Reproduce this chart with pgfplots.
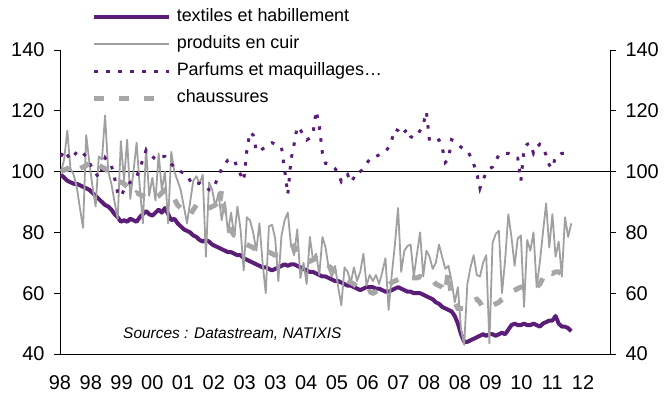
\documentclass[border=0pt]{standalone}
\usepackage{pgfplots}
\usepackage{pgfplotstable}
\pgfplotsset{compat=1.18}
\usepackage{fontspec}
\setmainfont{Liberation Sans}
\definecolor{nxpurple}{HTML}{5A1E78}
\definecolor{nxgrey}{HTML}{A0A0A0}
\definecolor{nxgrey2}{HTML}{A6A6A6}

\pgfplotstableread{
m t c p s
0 99 100 105 100
1 98 104 107 100.5
2 97 113.5 105.5 101
3 96.5 101 104 100
4 96 99 105 99
5 96 95 106.5 100
6 95.5 88 107 101
7 95 81.5 106 101.5
8 94.5 112 105 102
9 94 103 103 103
10 93 95 101 104
11 92 88.5 99.5 103.5
12 91 105 98 102
13 90 104 101 101.5
14 89 118.5 104.5 101
15 88.5 100 103 100
16 87.5 96 102 99
17 86 90 98 98
18 85 84.5 93 97
19 83.5 110 91.7 96.5
20 84 97 94 96
21 83.5 110.5 95.5 95
22 84.5 91 96.5 93
23 84 100 97 92
24 83.5 109.5 98.3 93
25 85 95 101 92.5
26 86 83 104 92
27 87 108 107 91.5
28 86 92 105.5 92
29 85.5 98 105 92.5
30 86.5 90.5 104 91.5
31 87.5 106 104.5 92
32 86.5 94 105 93
33 88 100 105 94
34 86 83 104 94
35 84 106.5 102.5 93
36 84.5 100 101.5 91
37 83 97 100.5 89
38 82 94 100 88
39 81 88.5 99.5 87
40 80.5 83 99 86
41 80 90 97 85.5
42 79 97 95.6 87.5
43 78.5 98.5 96 89
44 77.5 96 96.2 88.5
45 77 99 95.5 88
46 77.5 72 95 87
47 77 96.5 94 88
48 76 94 94 88.5
49 75.5 88.5 96 89
50 75 93 98.5 87
51 74.5 84 101 94
52 74 90 102.5 86
53 73.5 80 103.8 82
54 73.5 86.5 103.8 80.5
55 73 78.5 104 79
56 72.5 88.5 101 78
57 72.5 81 99 77
58 71.5 67.5 97 76.5
59 71 85 107 76
60 70.5 84 113 75.5
61 70 80 112 75
62 69.5 74 107 74
63 69 83 106.5 73.5
64 68.5 70 107.5 73
65 68.5 60 108 73
66 68 82 109 73.5
67 67.5 82.5 109.5 73
68 68 78 109 72.5
69 68.5 64 108.5 72.5
70 69 79 108 73
71 69.5 84 100.5 73.5
72 69 86.5 92.5 74.5
73 69.5 76 103.8 75
74 69.5 72.5 109 75.5
75 69 81 114.8 74
76 68.5 65 113.7 72.5
77 68 70 112 71.5
78 67.5 63 110.4 70.5
79 67 78.5 111 70.5
80 67 71 112.6 71
81 66.5 73 120 71.5
82 66 66 115 71
83 65.5 78.5 106 71.5
84 65.5 75 102.7 70.5
85 65 68 102.5 69
86 64.5 65.5 102 68
87 64 69 101 67
88 64 62 99.5 66
89 63.5 56 96.7 65
90 63 68.5 98 64.5
91 62.5 67 99 64
92 62.5 63.5 96.5 63.5
93 62 68.5 98 63
94 61.5 64 100 62
95 61 67 100 61
96 61.5 73 101 60
97 62 62.5 102.7 60
98 62 66 104 60.5
99 62 64 105 60
100 61.5 66 105 60.5
101 61.5 63 105.5 61
102 61 67 106 61
103 60.5 71.5 106.5 61.5
104 60.5 54.5 108 62.5
105 61 66 110.4 63.5
106 61.5 76 114 64
107 62 88 113.5 64.5
108 61.5 67 112 65
109 61 74 113 65.5
110 60.5 75.5 114 65.5
111 60.5 76 111.5 65
112 60 65.5 111 65
113 60 73 112 65
114 60 80 113.5 65.5
115 59.5 65.5 115.5 65
116 59 74 119.7 64.5
117 58.5 72 110 65
118 58 68 110 64.5
119 57 70 110 63
120 56.5 76 110.4 62.5
121 55.5 72 108 62
122 55 68 103 60
123 54.5 69 104 67.5
124 54 64 110.5 58
125 52.5 57 110 57
126 50 62 109 55
127 46.5 48 108 55
128 44 43 107.5 55
129 44 63 107 55.5
130 44.5 68.5 105 56
131 45 72.5 102.5 57.5
132 45.5 66 99.5 58
133 46 65.5 94.5 57
134 46.5 70 97.5 55
135 46 72.5 99.5 55
136 46.5 43.5 101 55.5
137 46.5 76.5 101.5 56
138 46 79.5 103.5 56.5
139 46.5 80.5 105.5 57
140 47 60 106 58
141 46.5 71 106 58.5
142 48 86 106 59.5
143 49.5 78.5 105 60.5
144 50 69 104.5 61
145 49.5 78 104.4 61.5
146 49.5 79 97 62
147 50 55.5 107.5 62
148 49.5 77.5 109 61.5
149 49.5 74 109.3 62
150 50 80 106 62
151 49.5 62 108 62
152 49 70 109 63
153 50 80 108 65
154 50.5 89.5 105.4 67.5
155 51 75 102.2 67
156 51 86 101.1 66.5
157 52.5 72 105 67
158 50 77 105.5 67
159 49 65.5 106 66
160 49 85 106 65.5
161 48.5 78.5 nan 65
162 47.5 83 nan 65
}\data

\begin{document}
\begin{tikzpicture}
\begin{axis}[
  name=ax, scale only axis, width=550bp, height=304bp,
  xmin=-0.317, xmax=174.286, ymin=40, ymax=140,
  axis x line*=bottom, axis y line*=left,
  xtick={-0.317,9.449,19.216,28.983,38.749,48.516,58.283,68.049,77.816,87.583,97.349,107.116,116.883,126.649,136.416,146.183,155.949,165.716},
  xticklabels={98,98,99,00,01,02,03,03,04,05,06,07,08,08,09,10,11,12},
  ytick={40,60,...,140},
  tick align=outside, major tick length=6bp,
  x tick style={draw=none},
  y tick style={line width=0.8bp, black},
  tick label style={font=\fontsize{20}{24}\selectfont},
  /pgf/number format/assume math mode=true,
  axis line style={line width=0.8bp, black},
  xticklabel style={yshift=-12bp},
  yticklabel style={xshift=-6bp},
  unbounded coords=jump,
  legend image code/.code={\draw[#1] (0bp,0bp) -- (75bp,0bp);},
  legend cell align=left,
  legend style={at={(0.052,1.15)}, anchor=north west, draw=none, fill=none,
    font=\fontsize{18}{21}\selectfont, row sep=6bp, column sep=3bp,
    nodes={inner sep=2bp, text height=13bp, text depth=4bp}},
]
\addplot[black, line width=0.8bp, forget plot] coordinates {(-0.317,100) (174.286,100)};
\addplot[nxpurple, line width=4bp, line join=round] table[x=m, y=t] {\data};
\addlegendentry{textiles et habillement}
\addplot[nxgrey, line width=1.8bp, line join=round] table[x=m, y=c] {\data};
\addlegendentry{produits en cuir}
\addplot[nxpurple, line width=3bp, dash pattern=on 3.5bp off 8.5bp] table[x=m, y=p] {\data};
\addlegendentry{Parfums et maquillages…}
\addplot[nxgrey2, line width=5bp, dash pattern=on 10bp off 15bp] table[x=m, y=s] {\data};
\addlegendentry{chaussures}
\node[font=\itshape\fontsize{15.5}{18}\selectfont] at (axis cs:54.4,46.6) {Sources : Datastream, NATIXIS};
\end{axis}
\begin{axis}[
  scale only axis, width=550bp, height=304bp,
  xmin=-0.317, xmax=174.286, ymin=40, ymax=140,
  axis x line=none, axis y line*=right,
  ytick={40,60,...,140},
  tick align=outside, major tick length=6bp,
  y tick style={line width=0.8bp, black},
  tick label style={font=\fontsize{20}{24}\selectfont},
  /pgf/number format/assume math mode=true,
  axis line style={line width=0.8bp, black},
  yticklabel style={xshift=6bp},
]
\addplot[draw=none, forget plot] coordinates {(0,100)};
\end{axis}
\pgfresetboundingbox
\path[use as bounding box] (-60bp,-46bp) rectangle (605bp,354bp);
\end{tikzpicture}
\end{document}
